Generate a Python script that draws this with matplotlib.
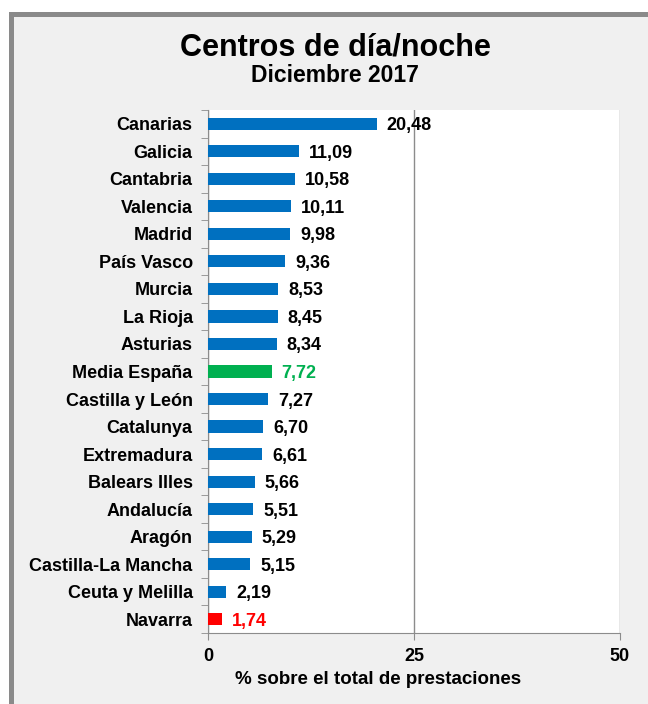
import matplotlib.pyplot as plt
from matplotlib.patches import Rectangle

plt.rcParams['font.family'] = ['Liberation Sans', 'DejaVu Sans']

# data
regiones = ['Canarias', 'Galicia', 'Cantabria', 'Valencia', 'Madrid', 'País Vasco',
            'Murcia', 'La Rioja', 'Asturias', 'Media España', 'Castilla y León',
            'Catalunya', 'Extremadura', 'Balears Illes', 'Andalucía', 'Aragón',
            'Castilla-La Mancha', 'Ceuta y Melilla', 'Navarra']
valores = [20.48, 11.09, 10.58, 10.11, 9.98, 9.36, 8.53, 8.45, 8.34, 7.72, 7.27,
           6.70, 6.61, 5.66, 5.51, 5.29, 5.15, 2.19, 1.74]

azul = '#0070c0'
colores = [azul] * len(regiones)
colores[regiones.index('Media España')] = '#00b050'
colores[regiones.index('Navarra')] = '#ff0000'
color_texto = ['black'] * len(regiones)
color_texto[regiones.index('Media España')] = '#00b050'
color_texto[regiones.index('Navarra')] = '#ff0000'

fig = plt.figure(figsize=(6.48, 7.04), dpi=100)
fig.patch.set_facecolor('white')
# grey background panel with dark top/left edge
fig.patches.append(Rectangle((9 / 648, 0), 1, 1 - 12 / 704, transform=fig.transFigure,
                             facecolor='#f0f0f0', edgecolor='none', zorder=-3))
fig.patches.append(Rectangle((9 / 648, 1 - 17 / 704), 1, 5 / 704, transform=fig.transFigure,
                             facecolor='#8a8a8a', edgecolor='none', zorder=-2))
fig.patches.append(Rectangle((9 / 648, 0), 5 / 648, 1 - 12 / 704, transform=fig.transFigure,
                             facecolor='#8a8a8a', edgecolor='none', zorder=-2))

ax = fig.add_axes([208 / 648, 71 / 704, 412 / 648, 523 / 704])
ax.set_facecolor('white')

y = list(range(len(regiones)))
ax.barh(y, valores, height=0.44, color=colores, zorder=3)
for yi, v, c in zip(y, valores, color_texto):
    ax.text(v + 1.2, yi, f'{v:.2f}'.replace('.', ','), va='center_baseline', ha='left',
            fontsize=13, fontweight='bold', color=c, zorder=4)

ax.set_ylim(len(regiones) - 0.5, -0.5)
ax.set_xlim(0, 50)
ax.set_yticks(y)
ax.set_yticklabels(regiones, fontsize=13, fontweight='bold')
ax.tick_params(axis='y', length=0, pad=11)
ax.set_yticks([i - 0.5 for i in range(len(regiones) + 1)], minor=True)
ax.tick_params(axis='y', which='minor', length=5, color='#8c8c8c', direction='out')
ax.set_xticks([0, 25, 50])
ax.set_xticklabels(['0', '25', '50'], fontsize=13, fontweight='bold')
ax.tick_params(axis='x', length=5, color='#8c8c8c', pad=6)
ax.grid(axis='x', color='#8c8c8c', linewidth=1, zorder=0)
for s in ['top', 'right']:
    ax.spines[s].set_visible(False)
for s in ['left', 'bottom']:
    ax.spines[s].set_color('#8c8c8c')
ax.set_xlabel('% sobre el total de prestaciones', fontsize=13.5, fontweight='bold')
ax.xaxis.set_label_coords(0.413, -0.072)

fig.text(0.517, 1 - 47 / 704, 'Centros de día/noche', ha='center', va='center',
         fontsize=22, fontweight='bold')
fig.text(0.517, 1 - 75 / 704, 'Diciembre 2017', ha='center', va='center',
         fontsize=16.5, fontweight='bold')

fig.savefig('out.png', dpi=100, facecolor=fig.get_facecolor())
